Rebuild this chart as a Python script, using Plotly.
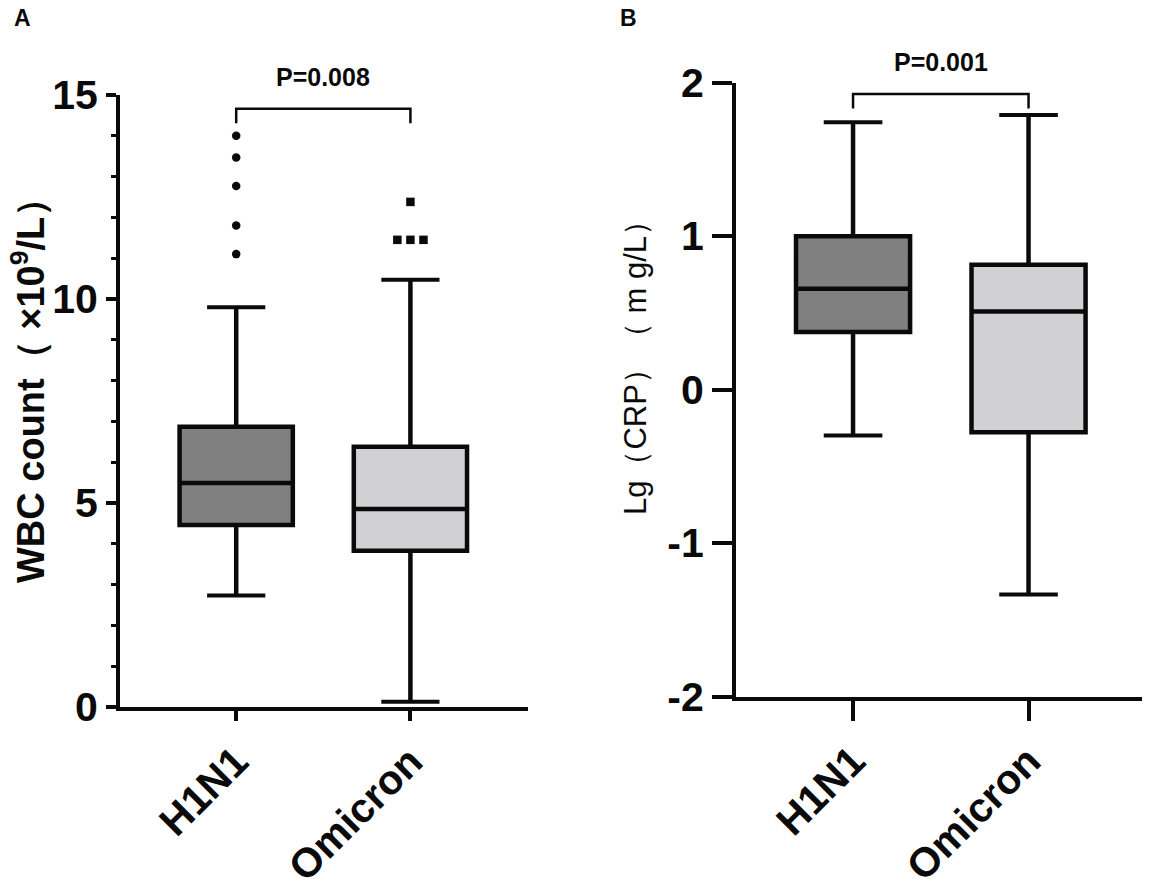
import plotly.graph_objects as go

# groups
categories = ["H1N1", "Omicron"]
box_colors = ["#808080", "#d1d1d3"]

# panel A: WBC count (x10^9/L)
wbc_lower = [2.73, 0.13]
wbc_q1 = [4.46, 3.83]
wbc_median = [5.49, 4.85]
wbc_q3 = [6.87, 6.38]
wbc_upper = [9.80, 10.47]
wbc_outliers = [[14.0, 13.47, 12.77, 11.8, 11.1], [12.38, 11.45, 11.45, 11.45]]
wbc_ticks = [0, 5, 10, 15]
wbc_p = "P=0.008"

# panel B: Lg(CRP) (mg/L)
crp_lower = [-0.30, -1.336]
crp_q1 = [0.375, -0.278]
crp_median = [0.657, 0.509]
crp_q3 = [0.999, 0.813]
crp_upper = [1.741, 1.789]
crp_ticks = [-2, -1, 0, 1, 2]
crp_p = "P=0.001"

FONT = "Arial, Liberation Sans, sans-serif"
BLACK = "#0a0a0a"
BOX_W = 0.65
CAP_HALF = 0.167
JITTER = 0.075
outlier_symbols = ["circle", "square"]

W, H = 1150, 887
PAGE_PAD = 8  # default body margin of the html page


def px(x):
    return (x - PAGE_PAD) / W


def py(y):
    return 1 - (y - PAGE_PAD) / H


def add_panel(fig, xa, ya, lower, q1, med, q3, upper, outliers=None):
    for i, cat in enumerate(categories):
        fig.add_trace(go.Box(
            x=[i], q1=[q1[i]], median=[med[i]], q3=[q3[i]],
            lowerfence=[lower[i]], upperfence=[upper[i]],
            width=BOX_W, fillcolor=box_colors[i],
            line=dict(color=BLACK, width=4.5), whiskerwidth=0,
            boxpoints=False, name=cat, showlegend=False,
            xaxis=xa, yaxis=ya, hoverinfo="skip"))
        # whisker caps
        fig.add_trace(go.Scatter(
            x=[i - CAP_HALF, i + CAP_HALF, None, i - CAP_HALF, i + CAP_HALF],
            y=[lower[i], lower[i], None, upper[i], upper[i]],
            mode="lines", line=dict(color=BLACK, width=4),
            showlegend=False, xaxis=xa, yaxis=ya, hoverinfo="skip"))
        if outliers:
            vals = outliers[i]
            xs = []
            for k, v in enumerate(vals):
                same = [j for j, w in enumerate(vals) if w == v]
                n = len(same)
                pos = same.index(k)
                xs.append(i + (pos - (n - 1) / 2) * JITTER)
            fig.add_trace(go.Scatter(
                x=xs, y=vals, mode="markers",
                marker=dict(symbol=outlier_symbols[i], size=8.5, color=BLACK),
                showlegend=False, xaxis=xa, yaxis=ya, hoverinfo="skip"))


fig = go.Figure()
add_panel(fig, "x", "y", wbc_lower, wbc_q1, wbc_median, wbc_q3, wbc_upper, wbc_outliers)
add_panel(fig, "x2", "y2", crp_lower, crp_q1, crp_median, crp_q3, crp_upper)


# significance brackets
def bracket(xref, yref, y_low, y_high, text, text_y, size):
    fig.add_shape(type="path",
                  path=f"M 0 {y_low} L 0 {y_high} L 1 {y_high} L 1 {y_low}",
                  xref=xref, yref=yref, line=dict(color=BLACK, width=2.5))
    fig.add_annotation(x=0.5, y=text_y, xref=xref, yref="paper", text=f"<b>{text}</b>",
                       xanchor="center", yanchor="middle",
                       showarrow=False, font=dict(family=FONT, size=size, color=BLACK))


bracket("x", "y", 14.31, 14.66, wbc_p, py(77), 25)
bracket("x2", "y2", 1.832, 1.926, crp_p, py(62), 25)

tick_font = dict(family=FONT, size=41, color=BLACK)
common_x = dict(tickmode="array", tickvals=[0, 1], ticktext=[f"<b>{c}</b>" for c in categories],
                tickangle=-45, showline=True, linecolor=BLACK, linewidth=4,
                ticks="outside", tickwidth=3.5, tickcolor=BLACK, tickfont=tick_font,
                showgrid=False, zeroline=False, range=[-0.667, 1.675], automargin=False)

fig.update_layout(
    width=W, height=H,
    margin=dict(l=0, r=0, t=0, b=0),
    plot_bgcolor="white", paper_bgcolor="white",
    xaxis=dict(common_x, domain=[px(120), px(528)], ticklen=10, anchor="y"),
    xaxis2=dict(common_x, domain=[px(736), px(1147)], ticklen=20, anchor="y2"),
    yaxis=dict(domain=[py(707), py(95)], range=[0, 15],
               tickvals=wbc_ticks, ticktext=[f"<b>{t}</b>" for t in wbc_ticks],
               showline=True, linecolor=BLACK, linewidth=4, ticks="outside",
               ticklen=10, tickwidth=3.5, tickcolor=BLACK, tickfont=tick_font,
               minor=dict(dtick=1, ticks="outside", ticklen=5, tickwidth=3, tickcolor=BLACK),
               showgrid=False, zeroline=False, anchor="x", automargin=False),
    yaxis2=dict(domain=[py(696.5), py(82.6)], range=[-2, 2],
                tickvals=crp_ticks, ticktext=[f"<b>{t}</b>" for t in crp_ticks],
                showline=True, linecolor=BLACK, linewidth=4, ticks="outside",
                ticklen=20, tickwidth=3.5, tickcolor=BLACK, tickfont=tick_font,
                showgrid=False, zeroline=False, anchor="x2", automargin=False),
)

# axis titles and panel letters
fig.add_annotation(x=px(28), y=py(381), xref="paper", yref="paper",
                   xanchor="center", yanchor="middle",
                   text="<b>WBC count（ ×10<sup>9</sup>/L）</b>", textangle=-90,
                   showarrow=False, font=dict(family=FONT, size=38, color=BLACK))
fig.add_annotation(x=px(635), y=py(360), xref="paper", yref="paper",
                   xanchor="center", yanchor="middle",
                   text="Lg（CRP）（ m g/L）", textangle=-90,
                   showarrow=False, font=dict(family=FONT, size=31, color=BLACK))
fig.add_annotation(x=px(22), y=py(18), xref="paper", yref="paper",
                   xanchor="center", yanchor="middle",
                   text="<b>A</b>", showarrow=False,
                   font=dict(family=FONT, size=23, color=BLACK))
fig.add_annotation(x=px(628), y=py(18), xref="paper", yref="paper",
                   xanchor="center", yanchor="middle",
                   text="<b>B</b>", showarrow=False,
                   font=dict(family=FONT, size=23, color=BLACK))

fig.write_html("out.html")
